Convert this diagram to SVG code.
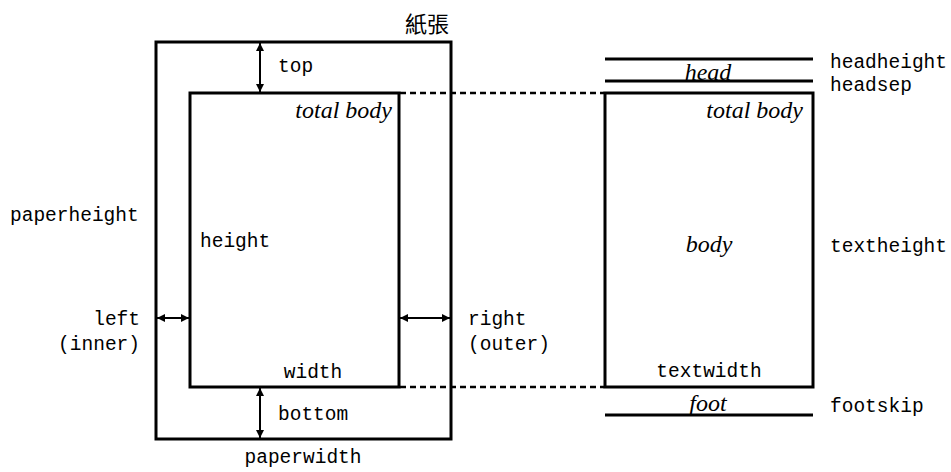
<svg xmlns="http://www.w3.org/2000/svg" width="951" height="472" viewBox="0 0 951 472">
<defs>
<style>
.tt{font-family:"Liberation Mono","DejaVu Sans Mono",monospace;font-size:19.5px;fill:#000}
.it{font-family:"Liberation Serif","DejaVu Serif",serif;font-style:italic;font-size:24px;fill:#000}
.cjk{font-family:"Noto Sans CJK SC","Noto Sans CJK TC",sans-serif;font-size:22px;fill:#000}
.box{fill:none;stroke:#000;stroke-width:3}
.rule{stroke:#000;stroke-width:3}
.arr{stroke:#000;stroke-width:2;marker-start:url(#ah);marker-end:url(#ah)}
.dash{stroke:#000;stroke-width:2.5;stroke-dasharray:6 4}
</style>
<marker id="ah" viewBox="0 0 10 10" refX="10" refY="5" markerWidth="4" markerHeight="4" orient="auto-start-reverse">
<path d="M0,0 L10,5 L0,10 z" fill="#000"/>
</marker>
</defs>
<g id="paper">
<rect class="box" x="156" y="42" width="295" height="397"/>
<text class="cjk" x="449" y="32" text-anchor="end">紙張</text>
<text class="tt" x="10" y="221">paperheight</text>
<text class="tt" x="303" y="463" text-anchor="middle">paperwidth</text>
</g>
<g id="body-left">
<rect class="box" x="190" y="93" width="209" height="294"/>
<text class="it" x="392" y="118" text-anchor="end">total body</text>
<text class="tt" x="200" y="247">height</text>
<text class="tt" x="313" y="378" text-anchor="middle">width</text>
</g>
<g id="margins">
<text class="tt" x="278" y="72">top</text>
<text class="tt" x="278" y="420">bottom</text>
<text class="tt" x="140" y="325" text-anchor="end">left</text>
<text class="tt" x="140" y="350" text-anchor="end">(inner)</text>
<text class="tt" x="468" y="325">right</text>
<text class="tt" x="468" y="350">(outer)</text>
</g>
<g id="body-right">
<rect class="box" x="605" y="93" width="208" height="294"/>
<text class="it" x="803" y="118" text-anchor="end">total body</text>
<text class="it" x="709" y="252" text-anchor="middle">body</text>
<text class="tt" x="709" y="377" text-anchor="middle">textwidth</text>
<text class="tt" x="830" y="252">textheight</text>
</g>
<g id="head">
<line class="rule" x1="605" y1="59" x2="813" y2="59"/>
<line class="rule" x1="605" y1="81" x2="813" y2="81"/>
<text class="it" x="708" y="80" text-anchor="middle">head</text>
<text class="tt" x="830" y="68">headheight</text>
<text class="tt" x="830" y="91">headsep</text>
</g>
<g id="foot">
<line class="rule" x1="605" y1="415" x2="813" y2="415"/>
<text class="it" x="708" y="411" text-anchor="middle">foot</text>
<text class="tt" x="830" y="412">footskip</text>
</g>
<g id="connectors">
<line class="arr" x1="260" y1="43" x2="260" y2="92"/>
<line class="arr" x1="260" y1="388" x2="260" y2="438"/>
<line class="arr" x1="157" y1="318" x2="189" y2="318"/>
<line class="arr" x1="400" y1="318" x2="450" y2="318"/>
<line class="dash" x1="400" y1="93" x2="604" y2="93"/>
<line class="dash" x1="400" y1="387" x2="604" y2="387"/>
</g>
</svg>
